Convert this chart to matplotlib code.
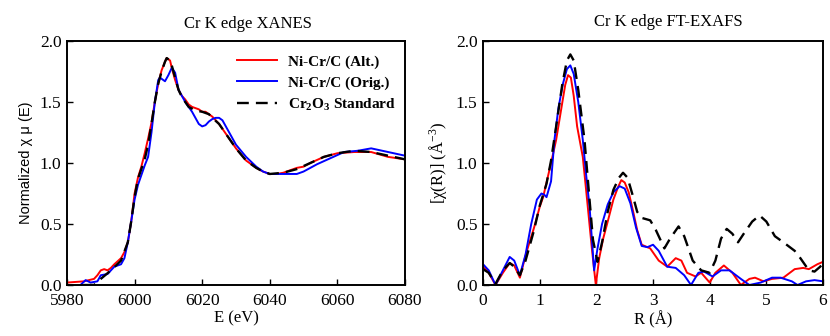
import matplotlib
matplotlib.use("Agg")
import matplotlib.pyplot as plt

# ---- XANES data ----
xan_alt_E = [5980, 5985, 5988, 5989, 5990, 5991, 5992, 5993, 5994, 5996, 5997, 5998, 5999, 6000, 6001,
             6002, 6003, 6004, 6005, 6006, 6007, 6008, 6009, 6009.5, 6010.5, 6011, 6012, 6013, 6014,
             6015, 6016, 6017, 6018, 6019, 6020, 6021, 6022, 6023, 6024, 6025, 6026, 6028, 6030, 6033,
             6036, 6038, 6040, 6042, 6044, 6046, 6048, 6050, 6052, 6056, 6060, 6065, 6070, 6075, 6080]
xan_alt_mu = [0.02, 0.03, 0.05, 0.08, 0.12, 0.13, 0.12, 0.14, 0.17, 0.22, 0.27, 0.35, 0.52, 0.75, 0.88,
              0.97, 1.08, 1.2, 1.33, 1.5, 1.65, 1.76, 1.83, 1.86, 1.84, 1.78, 1.68, 1.6, 1.55,
              1.52, 1.48, 1.46, 1.45, 1.44, 1.42, 1.42, 1.4, 1.38, 1.35, 1.32, 1.28, 1.2, 1.12, 1.02,
              0.96, 0.93, 0.91, 0.91, 0.92, 0.94, 0.96, 0.97, 1.0, 1.05, 1.08, 1.09, 1.09, 1.05, 1.03]

xan_orig_E = [5984, 5985.5, 5987, 5989, 5990, 5992, 5994, 5996, 5997, 5998, 5999, 6000, 6001, 6002, 6003,
              6004, 6005, 6006, 6007, 6007.5, 6008, 6009, 6010, 6011, 6012, 6013, 6014, 6015, 6016, 6017,
              6018, 6019, 6020, 6021, 6022, 6023, 6024, 6025, 6026, 6027, 6028, 6030, 6033, 6036, 6038,
              6040, 6044, 6046, 6048, 6050, 6052, 6054, 6058, 6062, 6066, 6070, 6075, 6080]
xan_orig_mu = [0.0, 0.04, 0.02, 0.03, 0.08, 0.09, 0.15, 0.17, 0.22, 0.35, 0.52, 0.7, 0.82, 0.9, 0.98,
               1.05, 1.25, 1.5, 1.68, 1.7, 1.69, 1.67, 1.72, 1.78, 1.74, 1.6, 1.55, 1.5, 1.46, 1.42,
               1.37, 1.32, 1.3, 1.31, 1.34, 1.36, 1.37, 1.37, 1.35, 1.3, 1.25, 1.15, 1.05, 0.97, 0.93,
               0.91, 0.91, 0.91, 0.91, 0.93, 0.96, 0.99, 1.04, 1.09, 1.1, 1.12, 1.09, 1.06]

xan_std_E = [5985, 5988, 5990, 5993, 5996, 5998, 5999, 6000, 6001, 6002, 6003, 6004, 6005, 6006, 6007,
             6008, 6009, 6009.5, 6010.5, 6011, 6012, 6013, 6014, 6015, 6016, 6018, 6020, 6022, 6023,
             6025, 6028, 6030, 6033, 6036, 6038, 6040, 6044, 6048, 6052, 6056, 6060, 6065, 6070, 6075, 6080]
xan_std_mu = [0.0, 0.0, 0.05, 0.12, 0.2, 0.35, 0.52, 0.72, 0.87, 0.95, 1.03, 1.15, 1.32, 1.5, 1.65,
              1.75, 1.83, 1.86, 1.84, 1.8, 1.7, 1.6, 1.54, 1.5, 1.46, 1.43, 1.42, 1.4, 1.37,
              1.32, 1.2, 1.12, 1.02, 0.96, 0.93, 0.91, 0.92, 0.95, 1.0, 1.05, 1.08, 1.1, 1.09, 1.06, 1.03]

# ---- FT-EXAFS data ----
ft_alt_R = [0, 0.1, 0.22, 0.35, 0.47, 0.55, 0.65, 0.76, 0.9, 1.0, 1.06, 1.1, 1.2, 1.29, 1.4, 1.45, 1.5,
            1.55, 1.6, 1.66, 1.76, 1.84, 1.92, 1.99, 2.05, 2.12, 2.2, 2.3, 2.38, 2.44, 2.5, 2.57, 2.65,
            2.72, 2.8, 2.95, 3.1, 3.25, 3.4, 3.5, 3.6, 3.75, 3.85, 4.0, 4.1, 4.25, 4.4, 4.55, 4.7, 4.8,
            4.95, 5.1, 5.3, 5.5, 5.65, 5.75, 5.9, 6.0]
ft_alt_chi = [0.15, 0.1, 0.0, 0.1, 0.18, 0.16, 0.06, 0.26, 0.47, 0.64, 0.72, 0.8, 1.0, 1.19, 1.5, 1.64, 1.72,
              1.7, 1.55, 1.3, 1.05, 0.68, 0.3, 0.0, 0.22, 0.38, 0.52, 0.7, 0.8, 0.86, 0.84, 0.76, 0.6,
              0.45, 0.33, 0.3, 0.2, 0.15, 0.22, 0.2, 0.1, 0.07, 0.1, 0.02, 0.1, 0.16, 0.1, 0.0, 0.05, 0.06,
              0.03, 0.05, 0.06, 0.13, 0.14, 0.13, 0.17, 0.19]

ft_orig_R = [0, 0.1, 0.22, 0.35, 0.47, 0.55, 0.65, 0.75, 0.85, 0.95, 1.03, 1.08, 1.12, 1.2, 1.26, 1.33,
             1.41, 1.48, 1.54, 1.6, 1.68, 1.76, 1.82, 1.88, 1.96, 2.02, 2.1, 2.2, 2.3, 2.41, 2.5, 2.6,
             2.7, 2.8, 2.9, 3.0, 3.1, 3.25, 3.4, 3.55, 3.67, 3.8, 3.9, 4.05, 4.2, 4.35, 4.55, 4.7, 4.9,
             5.1, 5.25, 5.45, 5.55, 5.7, 5.85, 6.0]
ft_orig_chi = [0.17, 0.12, 0.0, 0.12, 0.23, 0.2, 0.08, 0.25, 0.5, 0.7, 0.75, 0.74, 0.72, 0.85, 1.19, 1.45,
               1.65, 1.77, 1.8, 1.73, 1.5, 1.19, 0.9, 0.64, 0.12, 0.3, 0.5, 0.66, 0.76, 0.81, 0.79, 0.67,
               0.47, 0.32, 0.31, 0.33, 0.28, 0.15, 0.14, 0.08, 0.0, 0.1, 0.11, 0.07, 0.12, 0.12, 0.05, 0.0,
               0.02, 0.06, 0.06, 0.03, 0.0, 0.03, 0.04, 0.03]

ft_std_R = [0, 0.1, 0.22, 0.35, 0.47, 0.55, 0.65, 0.75, 0.9, 1.0, 1.12, 1.2, 1.29, 1.4, 1.48, 1.54, 1.6,
            1.68, 1.79, 1.87, 1.94, 2.02, 2.1, 2.2, 2.3, 2.4, 2.47, 2.55, 2.65, 2.72, 2.8, 2.95, 3.05,
            3.2, 3.3, 3.45, 3.55, 3.7, 3.85, 4.0, 4.1, 4.2, 4.3, 4.4, 4.5, 4.6, 4.75, 4.88, 5.0, 5.15,
            5.3, 5.5, 5.6, 5.75, 5.85, 5.95, 6.0]
ft_std_chi = [0.13, 0.1, 0.01, 0.12, 0.18, 0.15, 0.08, 0.2, 0.45, 0.65, 0.83, 1.02, 1.3, 1.65, 1.84, 1.89, 1.84,
              1.6, 1.19, 0.75, 0.37, 0.19, 0.35, 0.6, 0.78, 0.88, 0.92, 0.88, 0.72, 0.6, 0.55, 0.53, 0.45,
              0.3, 0.38, 0.48, 0.4, 0.2, 0.12, 0.1, 0.2, 0.38, 0.46, 0.42, 0.35, 0.42, 0.52, 0.57, 0.52,
              0.4, 0.35, 0.28, 0.22, 0.12, 0.11, 0.15, 0.18]

labels = ["Ni-Cr/C (Alt.)", "Ni-Cr/C (Orig.)", r"Cr$_\mathbf{2}$O$_\mathbf{3}$ Standard"]

serif = "Liberation Serif"
plt.rcParams["mathtext.fontset"] = "custom"
plt.rcParams["mathtext.rm"] = serif
plt.rcParams["mathtext.it"] = serif + ":italic"
plt.rcParams["mathtext.bf"] = serif + ":bold"

fig = plt.figure(figsize=(8.3, 3.36), dpi=100)
ax1 = fig.add_axes([0.0807, 0.1518, 0.4072, 0.7262])
ax2 = fig.add_axes([0.582, 0.1518, 0.4096, 0.7262])

lw = 1.4
ax1.plot(xan_alt_E, xan_alt_mu, color="#ff0000", lw=lw, label=labels[0])
ax1.plot(xan_orig_E, xan_orig_mu, color="#0000ff", lw=lw, label=labels[1])
ax1.plot(xan_std_E, xan_std_mu, color="black", lw=1.7, ls=(0, (5, 3)), label=labels[2])

ax2.plot(ft_alt_R, ft_alt_chi, color="#ff0000", lw=lw)
ax2.plot(ft_orig_R, ft_orig_chi, color="#0000ff", lw=lw)
ax2.plot(ft_std_R, ft_std_chi, color="black", lw=1.7, ls=(0, (5, 3)))

ax1.set_xlim(5980, 6080)
ax1.set_ylim(0, 2.0)
ax1.set_xticks([5980, 6000, 6020, 6040, 6060, 6080])
ax2.set_xlim(0, 6)
ax2.set_ylim(0, 2.0)
ax2.set_xticks([0, 1, 2, 3, 4, 5, 6])

for ax in (ax1, ax2):
    ax.set_yticks([0.0, 0.5, 1.0, 1.5, 2.0])
    ax.set_yticklabels(["0.0", "0.5", "1.0", "1.5", "2.0"])
    ax.tick_params(direction="in", length=4, width=1, labelsize=12.5, top=False, right=False)
    ax.tick_params(axis="x", pad=6)
    ax.tick_params(axis="y", pad=4)
    for lab in ax.get_xticklabels() + ax.get_yticklabels():
        lab.set_fontfamily(serif)
    for sp in ax.spines.values():
        sp.set_linewidth(1.4)

ax1.set_xlabel("E (eV)", fontfamily=serif, fontsize=12, labelpad=1)
ax1.set_ylabel(r"Normalized χ μ (E)", fontfamily="Liberation Sans", fontsize=10.5, labelpad=5)
ax2.set_xlabel("R (Å)", fontfamily=serif, fontsize=12, labelpad=1)
ax2.set_ylabel(r"[χ(R)] (Å$^{-3}$)", fontfamily=serif, fontsize=12, labelpad=5)

fig.text(0.299, 0.93, "Cr K edge XANES", fontfamily=serif, fontsize=12, ha="center", va="center")
fig.text(0.805, 0.935, "Cr K edge FT-EXAFS", fontfamily=serif, fontsize=12, ha="center", va="center")

leg = ax1.legend(loc="upper right", frameon=False, prop={"family": serif, "weight": "bold", "size": 11},
                 handlelength=2.6, handletextpad=0.7, labelspacing=0.45, borderaxespad=0.2,
                 bbox_to_anchor=(1.0, 0.98))

fig.savefig("out.png", dpi=100)
